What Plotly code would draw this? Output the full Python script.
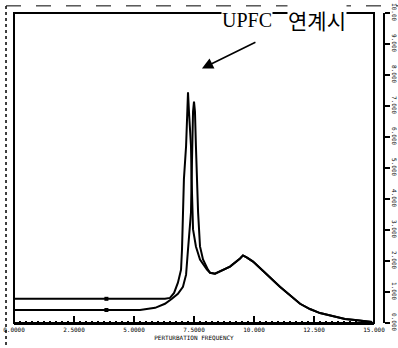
import plotly.graph_objects as go

# Curve with the taller (left) peak, upper baseline
xa = [0, 4.83, 6.29, 6.50, 6.67, 6.83, 6.96, 7.00, 7.04, 7.08, 7.17, 7.21, 7.25, 7.29, 7.375, 7.40, 7.42, 7.46, 7.58, 7.75, 8.04, 8.17]
ya = [0.78, 0.78, 0.78, 0.81, 0.97, 1.30, 1.72, 2.37, 3.57, 4.64, 5.71, 6.82, 7.44, 6.82, 5.71, 4.64, 3.57, 3.02, 2.47, 2.05, 1.72, 1.62]
# Curve with the right peak, lower baseline
xb = [0, 5.25, 5.88, 6.29, 6.58, 6.83, 7.04, 7.17, 7.25, 7.33, 7.375, 7.40, 7.42, 7.46, 7.50, 7.54, 7.58, 7.625, 7.67, 7.75, 7.875, 8.08, 8.17]
yb = [0.42, 0.42, 0.49, 0.62, 0.78, 0.94, 1.17, 1.56, 2.37, 3.02, 3.57, 4.64, 5.71, 6.82, 7.14, 6.82, 5.71, 4.64, 3.57, 2.47, 2.05, 1.72, 1.62]
# Shared tail (both curves merge after the valley)
xt = [8.375, 8.58, 9.0, 9.42, 9.54, 9.71, 9.96, 10.46, 11.08, 11.92, 12.33, 12.75, 13.29, 13.79, 14.21, 14.625, 14.92]
yt = [1.59, 1.66, 1.82, 2.08, 2.18, 2.11, 1.98, 1.62, 1.17, 0.62, 0.45, 0.32, 0.23, 0.13, 0.10, 0.06, 0.03]

x_ticks = [0, 2.5, 5, 7.5, 10, 12.5, 15]
x_labels = ["0.0000", "2.5000", "5.0000", "7.5000", "10.000", "12.500", "15.000"]
y_ticks = [0, 1, 2, 3, 4, 5, 6, 7, 8, 9, 10]
y_labels = ["0.000", "1.000", "2.000", "3.000", "4.000", "5.000", "6.000", "7.000", "8.000", "9.000", "10.00"]

fig = go.Figure()
fig.add_trace(go.Scatter(x=xa + xt, y=ya + yt, mode="lines",
                         line=dict(color="black", width=2), showlegend=False))
fig.add_trace(go.Scatter(x=xb + xt, y=yb + yt, mode="lines",
                         line=dict(color="black", width=2), showlegend=False))
# small square markers on the baselines
fig.add_trace(go.Scatter(x=[3.85, 3.85], y=[ya[0], yb[0]], mode="markers",
                         marker=dict(symbol="square", size=4, color="black"), showlegend=False))

fig.update_layout(
    width=398, height=348,
    margin=dict(l=14, r=14, t=13, b=25),
    paper_bgcolor="white", plot_bgcolor="white",
    font=dict(family="DejaVu Sans", color="black"),
    xaxis=dict(range=[0, 15], domain=[0, 360/370], tickvals=x_ticks, ticktext=x_labels,
               ticks="inside", ticklen=7, tickwidth=1.5, tickcolor="black", automargin=False,
               showgrid=False, zeroline=False, showline=True, linecolor="black", linewidth=2,
               tickfont=dict(size=6, family="DejaVu Sans Mono"),
               minor=dict(dtick=0.25, ticks="inside", ticklen=2, tickcolor="black"),
               title=dict(text="PERTURBATION FREQUENCY", font=dict(size=6, family="DejaVu Sans Mono"), standoff=4)),
    yaxis=dict(range=[0, 10], anchor="free", position=1.0, side="right", automargin=False,
               tickvals=y_ticks, ticktext=y_labels, tickangle=90,
               ticks="outside", ticklen=5, tickcolor="black", tickwidth=1.5,
               showgrid=False, zeroline=False, showline=True, linecolor="black", linewidth=1.5,
               tickfont=dict(size=6, family="DejaVu Sans Mono")),
)

# plot frame
fig.add_shape(type="rect", xref="x domain", yref="y domain", x0=0, x1=1, y0=0, y1=1,
              line=dict(color="black", width=2))
# outer scan frame
fig.add_shape(type="line", xref="paper", yref="paper", x0=-0.0216, x1=1.05, y0=1.023, y1=1.023,
              line=dict(color="black", width=1, dash="longdash"))
fig.add_shape(type="line", xref="paper", yref="paper", x0=-0.0216, x1=-0.0216, y0=-0.09, y1=1.023,
              line=dict(color="black", width=1.5, dash="dot"))

fig.add_annotation(x=9.71, y=9.77, xref="x", yref="y", text="UPFC", showarrow=False,
                   bgcolor="white", borderpad=0,
                   font=dict(size=20, family="Liberation Serif", color="black"))
fig.add_annotation(x=12.62, y=9.77, xref="x", yref="y", text="연계시", showarrow=False,
                   bgcolor="white", borderpad=0,
                   font=dict(size=21, family="Noto Sans CJK KR", color="black"))
fig.add_annotation(x=7.83, y=8.21, xref="x", yref="y", text="", showarrow=True,
                   ax=55, ay=-27, arrowhead=2, arrowsize=1.4, arrowwidth=1.6, arrowcolor="black")

fig.write_html("out.html")
